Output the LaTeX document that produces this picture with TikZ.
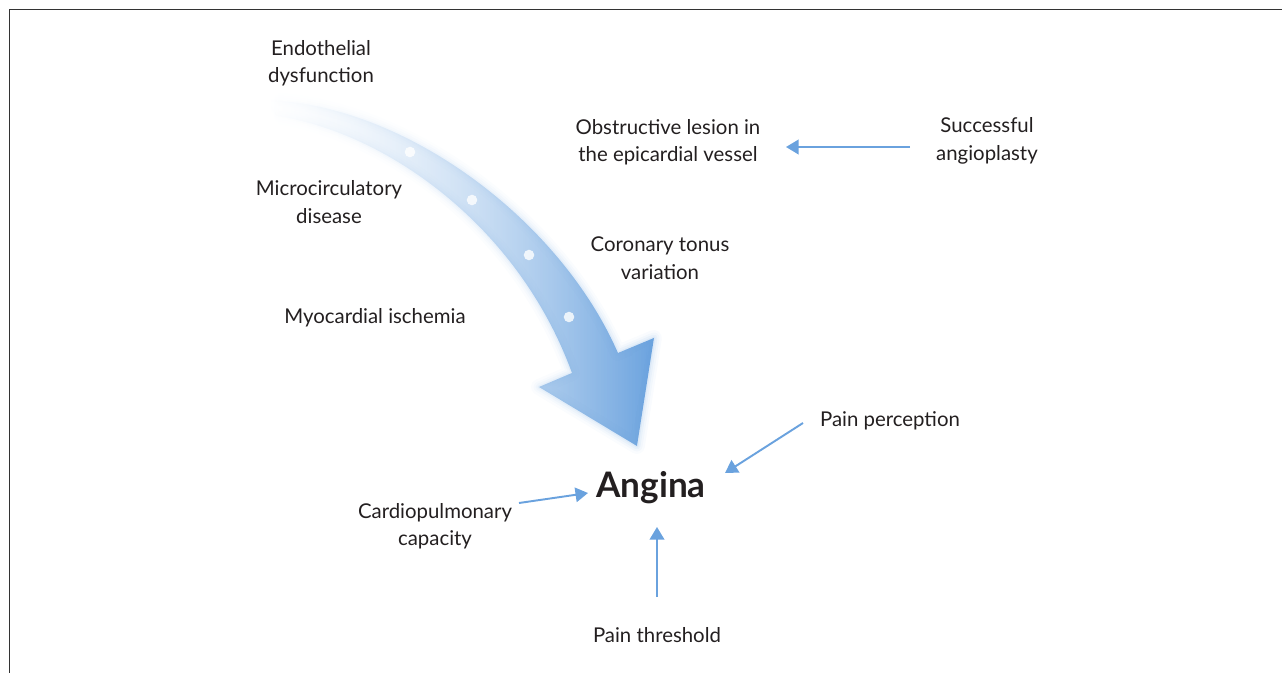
\documentclass[tikz,border=0pt]{standalone}
\usepackage{fontspec}
\setmainfont{Lato}
\usetikzlibrary{arrows.meta, positioning, calc, fadings}
\definecolor{flowblue}{RGB}{106,162,222}
\definecolor{txtgray}{RGB}{35,31,32}
\tikzfading[name=tailfade, left color=transparent!100, middle color=transparent!0, right color=transparent!0]
\tikzset{
    factor/.style={align=center, text=txtgray, font=\fontsize{11.6}{15.6}\selectfont, inner sep=2pt},
    outcome/.style={text=txtgray, font=\bfseries\fontsize{20}{22}\selectfont, inner sep=2pt},
    link/.style={draw=flowblue, line width=1.1pt, -{Triangle[length=0.25cm, width=0.29cm]}}
}

\begin{document}
\begin{tikzpicture}[x=0.02cm, y=-0.02cm]
        \useasboundingbox (0,0) rectangle (1282,673);
        % Frame
        \draw[line width=0.9pt, black!80] (1282,9.5) -- (9.5,9.5) -- (9.5,673);

        % Big curved arrow
        \def\bigarrow{(266,100) .. controls (405,104) and (560,220) .. (618,353) -- (654,338) -- (637,446) -- (539,387) -- (572,373) .. controls (518,225) and (385,132) .. (276,116) -- cycle}
        \foreach \w/\o in {16/0.04, 11/0.05, 7/0.07, 3/0.1}
            \draw[flowblue, line width=\w*0.02cm, line join=round, opacity=\o, path fading=tailfade] \bigarrow;
        \shade[left color=flowblue!25, right color=flowblue, path fading=tailfade] \bigarrow;
        \foreach \p in {(410,152), (472,200), (529,255), (569,317)}
            \fill[white, opacity=0.8] \p circle (3pt);

        % Entities
        \node[factor] (endo) at (321,63) {Endothelial\\dysfunction};
        \node[factor] (micro) at (329,202) {Microcirculatory\\disease};
        \node[factor] (ischemia) at (375,318) {Myocardial ischemia};
        \node[factor] (lesion) at (668,142) {Obstructive lesion in\\the epicardial vessel};
        \node[factor] (angioplasty) at (987,141) {Successful\\angioplasty};
        \node[factor] (tonus) at (660,258) {Coronary tonus\\variation};
        \node[factor] (perception) at (890,421) {Pain perception};
        \node[outcome] (angina) at (651,488) {Angina};
        \node[factor] (cardio) at (435,526) {Cardiopulmonary\\capacity};
        \node[factor] (threshold) at (657,635) {Pain threshold};

        % Flows
        \draw[link] ($(angioplasty)+(-77,6)$) -- ($(lesion)+(118,5)$);
        \draw[link] ($(perception)+(-87,2)$) -- ($(angina)+(74,-15)$);
        \draw[link] ($(cardio)+(84,-23)$) -- ($(angina)+(-63,5)$);
        \draw[link] ($(threshold)+(0,-38)$) -- ($(angina)+(6,39)$);
    \end{tikzpicture}
\end{document}
